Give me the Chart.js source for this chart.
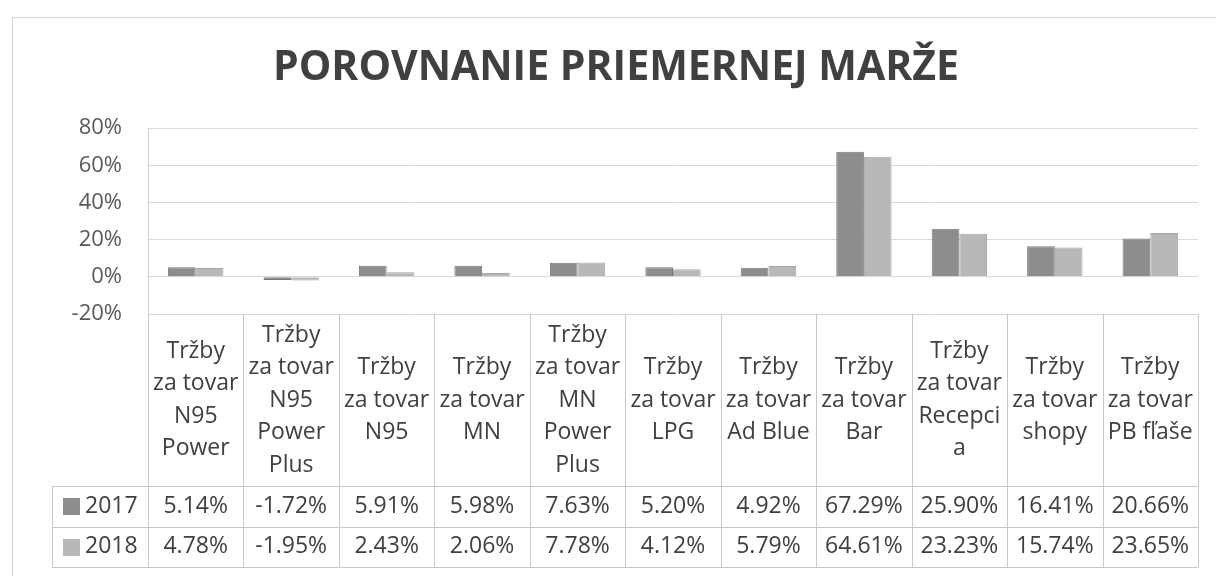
<!DOCTYPE html>
<html><head><meta charset="utf-8">
<script src="https://cdn.jsdelivr.net/npm/chart.js@4.4.1/dist/chart.umd.min.js"></script>
<style>html,body{margin:0;padding:0;background:#fff}#wrap{width:1216px;height:576px;position:relative}</style>
</head><body><div id="wrap"><canvas id="c" width="1216" height="576"></canvas></div>
<script>
const chartTitle = 'POROVNANIE PRIEMERNEJ MARŽE';
const categories = [
  ['Tržby','za tovar','N95','Power'],
  ['Tržby','za tovar','N95','Power','Plus'],
  ['Tržby','za tovar','N95'],
  ['Tržby','za tovar','MN'],
  ['Tržby','za tovar','MN','Power','Plus'],
  ['Tržby','za tovar','LPG'],
  ['Tržby','za tovar','Ad Blue'],
  ['Tržby','za tovar','Bar'],
  ['Tržby','za tovar','Recepci','a'],
  ['Tržby','za tovar','shopy'],
  ['Tržby','za tovar','PB fľaše']
];
const seriesNames = ['2017','2018'];
const values2017 = [5.14,-1.72,5.91,5.98,7.63,5.20,4.92,67.29,25.90,16.41,20.66];
const values2018 = [4.78,-1.95,2.43,2.06,7.78,4.12,5.79,64.61,23.23,15.74,23.65];
const yTicks = [-20,0,20,40,60,80];
const seriesColors = ['#8d8d8d','#b8b8b8'];
const seriesBorders = ['#7a7a7a','#a6a6a6'];

const FONT = "'Open Sans', 'Noto Sans', sans-serif";
const TXT = '#404040';
const LINE = '#c8c8c8';

const framePlugin = {
  id: 'frame',
  beforeDraw(chart) {
    const ctx = chart.ctx;
    ctx.save();
    ctx.strokeStyle = '#d2d2d2';
    ctx.lineWidth = 1;
    ctx.beginPath();
    ctx.moveTo(12.5, 577); ctx.lineTo(12.5, 17.5); ctx.lineTo(1217, 17.5);
    ctx.stroke();
    ctx.restore();
  }
};

const tablePlugin = {
  id: 'dataTable',
  afterDraw(chart) {
    const { ctx, chartArea: a, scales: { x } } = chart;
    const n = categories.length;
    const cw = (a.right - a.left) / n;
    const top = a.bottom;
    const hdrH = 172, rowH = 40.5;
    const r1 = top + hdrH, r2 = r1 + rowH, r3 = r2 + rowH;
    const leftX = 52;
    const rows = [values2017, values2018];
    ctx.save();
    ctx.strokeStyle = LINE;
    ctx.lineWidth = 1;
    ctx.beginPath();
    for (let i = 0; i <= n; i++) {
      const xx = Math.round(x.getPixelForValue(0) - cw / 2 + i * cw) + 0.5;
      ctx.moveTo(xx, top); ctx.lineTo(xx, r3);
    }
    ctx.moveTo(leftX + 0.5, r1); ctx.lineTo(leftX + 0.5, r3);
    [r1, r2, r3].forEach(y => {
      const yy = Math.round(y) + 0.5;
      ctx.moveTo(leftX, yy); ctx.lineTo(a.right, yy);
    });
    ctx.stroke();

    ctx.fillStyle = TXT;
    ctx.font = `23px ${FONT}`;
    ctx.textAlign = 'center';
    ctx.textBaseline = 'middle';
    const lh = 32.5;
    const hMid = top + hdrH / 2;
    categories.forEach((lines, i) => {
      const cx = x.getPixelForValue(i);
      const y0 = hMid - (lines.length - 1) * lh / 2;
      lines.forEach((t, k) => ctx.fillText(t, cx, y0 + k * lh));
    });
    rows.forEach((vals, r) => {
      const cy = (r === 0 ? (r1 + r2) / 2 : (r2 + r3) / 2);
      vals.forEach((v, i) => {
        ctx.fillText(v.toFixed(2) + '%', x.getPixelForValue(i), cy);
      });
      ctx.fillStyle = seriesColors[r];
      ctx.fillRect(63, Math.round(cy - 8), 17, 17);
      ctx.fillStyle = TXT;
      ctx.textAlign = 'left';
      ctx.fillText(seriesNames[r], 85, cy);
      ctx.textAlign = 'center';
    });
    ctx.restore();
  }
};

new Chart(document.getElementById('c'), {
  type: 'bar',
  data: {
    labels: categories.map(l => l.join(' ')),
    datasets: [
      { label: seriesNames[0], data: values2017, backgroundColor: seriesColors[0], borderColor: seriesBorders[0], borderWidth: 1 },
      { label: seriesNames[1], data: values2018, backgroundColor: seriesColors[1], borderColor: seriesBorders[1], borderWidth: 1 }
    ]
  },
  options: {
    responsive: false,
    animation: false,
    devicePixelRatio: 1,
    layout: { padding: { top: 17, right: 18, bottom: 262, left: 34 } },
    datasets: { bar: { categoryPercentage: 0.58, barPercentage: 1.0 } },
    plugins: {
      legend: { display: false },
      tooltip: { enabled: false },
      title: {
        display: true,
        text: chartTitle,
        color: TXT,
        font: { family: FONT, size: 41, weight: 'bold', lineHeight: 1.2 },
        padding: { top: 27, bottom: 35 }
      }
    },
    scales: {
      x: { display: false },
      y: {
        min: -20, max: 80,
        afterBuildTicks: s => { s.ticks = yTicks.map(v => ({ value: v })); },
        afterFit: s => { s.width = 114; },
        grid: { color: '#d9d9d9', drawTicks: false },
        border: { display: true, color: '#d0d0d0' },
        ticks: {
          padding: 26,
          color: '#595959',
          font: { family: FONT, size: 22 },
          callback: v => v + '%'
        }
      }
    }
  },
  plugins: [framePlugin, tablePlugin]
});
</script>
</body></html>
